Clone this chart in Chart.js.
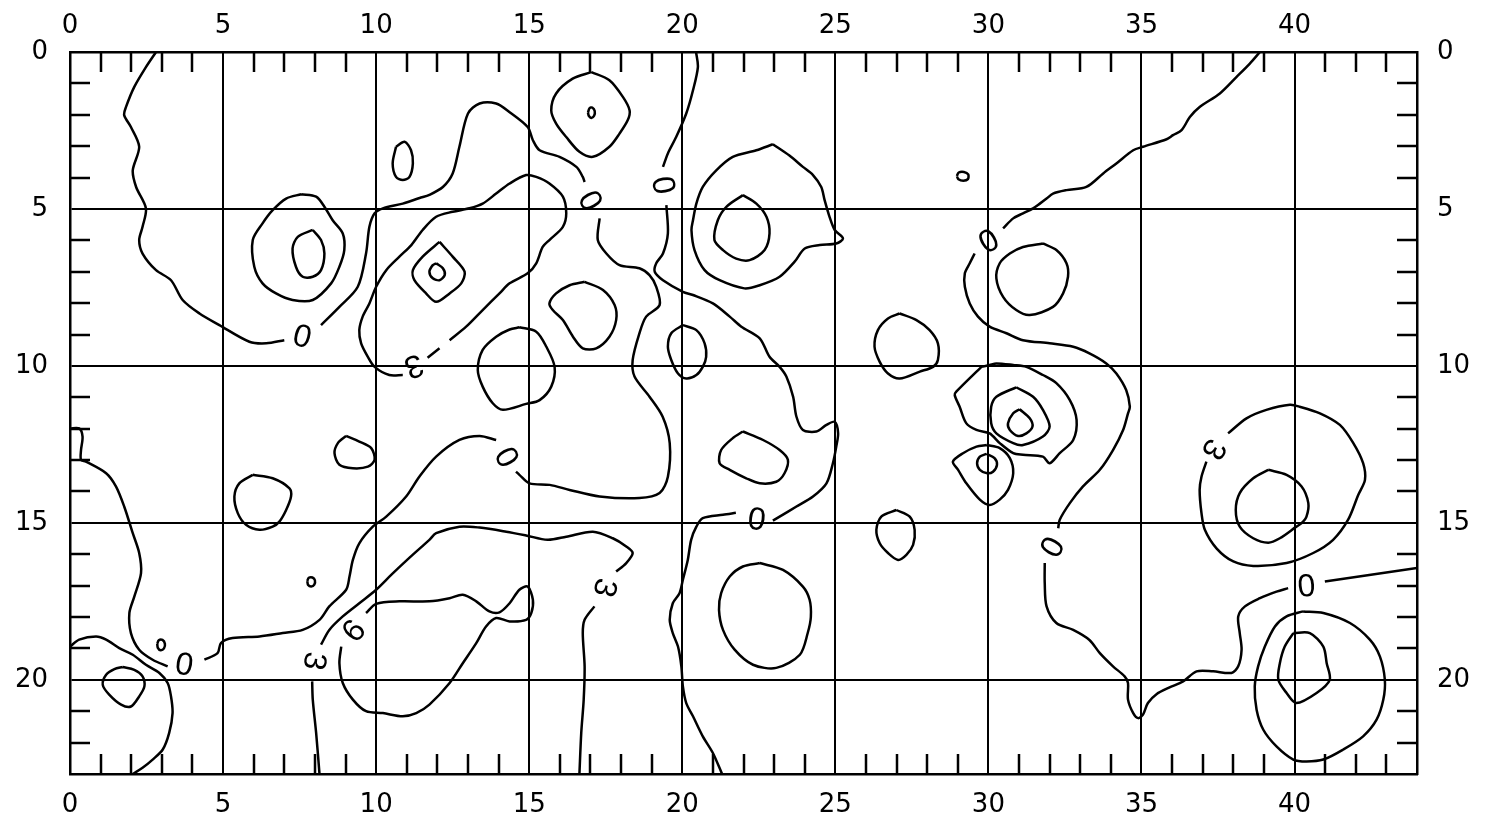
<!DOCTYPE html>
<html>
<head>
<meta charset="utf-8">
<title>Contour map</title>
<script src="https://cdn.jsdelivr.net/npm/chart.js@4.4.1/dist/chart.umd.min.js"></script>
<style>
  html, body { margin: 0; padding: 0; background: #fff; }
  #map { display: block; }
</style>
</head>
<body>
<canvas id="map" width="1485" height="822"></canvas>
<script>
// Axis ranges (grid units)
const xRange = [0, 44];
const yRange = [0, 23];
const majorStep = 5;

// Zero contour, west part, split where its labels sit
const zeroWest1 = [[2.81,0],[2.48,0.48],[2.1,1.11],[1.83,1.75],[1.77,2.01],[1.99,2.39],[2.26,3.02],[2.05,3.77],[2.16,4.3],[2.48,4.98],[2.37,5.57],[2.26,5.99],[2.37,6.42],[2.81,6.95],[3.3,7.27],[3.68,7.9],[4.23,8.33],[4.88,8.7],[5.86,9.23],[6.41,9.28],[7.0,9.18]];
const zeroWest2 = [[8.2,8.7],[8.8,8.12],[9.4,7.48],[9.67,6.42],[9.78,5.57],[9.95,5.14],[10.22,4.98],[10.87,4.83],[11.42,4.65],[11.74,4.55],[12.18,4.3],[12.5,3.87],[12.72,3.02],[13.0,1.96],[13.38,1.64],[13.92,1.64],[14.35,1.91],[14.95,2.39],[15.12,2.81],[15.34,3.13],[15.99,3.34],[16.54,3.66],[16.75,3.98],[16.81,4.14]];
const zeroWest3 = [[17.3,5.3],[17.24,5.99],[17.52,6.42],[17.95,6.79],[18.6,6.89],[18.93,7.11],[19.15,7.48],[19.26,8.06],[18.82,8.43],[18.6,8.96],[18.38,9.81],[18.44,10.34],[18.93,10.98],[19.36,11.62],[19.59,12.46],[19.53,13.53],[19.26,14.05],[18.6,14.21],[17.3,14.16],[16.32,13.95],[15.67,13.79],[15.01,13.74],[14.68,13.47],[14.57,13.37]];
const zeroWest4 = [[13.92,12.36],[13.38,12.23],[12.72,12.36],[11.96,12.89],[11.41,13.53],[10.98,14.16],[10.33,14.8],[9.89,15.12],[9.45,15.65],[9.24,16.18],[9.13,16.71],[9.02,17.13],[8.47,17.66],[8.15,18.09],[7.6,18.41],[6.95,18.51],[6.19,18.62],[5.31,18.67],[4.93,18.83],[4.82,19.15],[4.39,19.36]];
const zeroWest5 = [[3.19,19.57],[2.7,19.36],[2.26,19.04],[1.99,18.51],[1.94,17.87],[2.1,17.35],[2.32,16.6],[2.26,15.96],[2.05,15.33],[1.77,14.48],[1.5,13.84],[1.18,13.42],[0.52,13.05],[0.36,13.0],[0.36,12.68],[0.41,12.25],[0.3,11.99],[0,11.99]];

// Zero contour, central part
const zeroMid1 = [[20.45,0],[20.51,0.48],[20.35,1.22],[20.13,1.96],[19.8,2.71],[19.53,3.23],[19.37,3.66]];
const zeroMid2 = [[19.48,4.88],[19.53,5.78],[19.37,6.42],[19.15,6.73],[19.1,7.0],[19.37,7.27],[20.02,7.64],[20.35,7.74],[21.0,8.01],[21.55,8.43],[21.93,8.75],[22.53,9.12],[22.85,9.71],[23.18,10.03],[23.4,10.34],[23.62,10.98],[23.73,11.62],[23.94,12.04],[24.38,12.09],[24.71,11.88],[24.98,11.78],[25.09,12.14],[25.03,12.57],[24.92,13.1],[24.71,13.74],[24.27,14.16],[23.73,14.48],[23.18,14.8],[22.96,14.93]];
const zeroMid3 = [[21.75,14.68],[21.33,14.74],[20.67,14.85],[20.46,15.12],[20.29,15.54],[20.18,16.18],[20.02,16.81],[19.91,17.24],[19.69,17.56],[19.59,18.09],[19.69,18.51],[19.86,18.94],[19.97,19.57],[20.02,20.21],[20.13,20.74],[20.35,21.16],[20.67,21.8],[21.0,22.33],[21.3,23]];

// Zero contour, east part
const zeroEast1 = [[38.87,0],[38.54,0.37],[38.1,0.8],[37.56,1.32],[36.9,1.75],[36.58,2.07],[36.31,2.49],[36.03,2.65],[35.82,2.78],[35.05,3.02],[34.73,3.13],[34.18,3.55],[33.75,3.87],[33.2,4.3],[32.55,4.4],[32.11,4.51],[31.9,4.67],[31.68,4.83],[31.46,4.98],[31.13,5.14],[30.81,5.3],[30.48,5.62]];
const zeroEast2 = [[29.55,6.42],[29.39,6.73],[29.23,7.05],[29.23,7.48],[29.39,8.01],[29.66,8.43],[30.04,8.75],[30.59,8.96],[31.13,9.18],[32.0,9.28],[32.77,9.39],[33.3,9.6],[33.85,9.92],[34.18,10.24],[34.5,10.77],[34.62,11.3],[34.56,11.51],[34.4,12.04],[34.07,12.68],[33.64,13.31],[33.09,13.84],[32.66,14.37],[32.33,14.9],[32.28,15.17]];
const zeroEast3 = [[31.84,16.28],[31.84,16.92],[31.9,17.66],[32.22,18.19],[32.77,18.41],[33.3,18.73],[33.64,19.15],[34.07,19.57],[34.45,19.89],[34.56,20.1],[34.56,20.63],[34.73,21.06],[34.89,21.22],[35.05,21.11],[35.21,20.74],[35.5,20.45],[35.9,20.25],[36.36,20.05],[36.8,19.73],[37.34,19.73],[37.94,19.78],[38.16,19.57],[38.27,19.04],[38.21,18.51],[38.16,17.98],[38.38,17.66],[38.87,17.4],[39.41,17.19],[39.79,17.08]];
const zeroEast4 = [[40.99,16.87],[44,16.44]];

// Level 3 contours
const threeWest = [[10.87,10.29],[10.43,10.29],[9.95,10.03],[9.73,9.71],[9.51,9.28],[9.45,8.86],[9.56,8.43],[9.78,8.01],[10.0,7.48],[10.33,6.95],[10.76,6.52],[11.15,6.15],[11.52,5.67],[11.96,5.25],[12.5,5.09],[13.05,4.98],[13.48,4.83],[13.92,4.51],[14.36,4.19],[14.9,3.92],[15.23,3.98],[15.66,4.19],[16.1,4.61],[16.21,5.14],[16.1,5.57],[15.66,5.99],[15.44,6.21],[15.23,6.73],[14.95,7.05],[14.36,7.37],[14.03,7.69],[13.48,8.22],[12.94,8.75],[12.4,9.18]];
const threeWestDash = [[12.07,9.44],[11.68,9.74]];
const threeSouth1 = [[8.15,23],[8.04,21.69],[7.93,20.63],[7.91,20.05]];
const threeSouth2 = [[8.2,18.88],[8.47,18.41],[8.91,17.98],[9.45,17.56],[10.0,17.13],[10.5,16.65],[11.1,16.1],[11.74,15.54],[11.96,15.33],[12.72,15.12],[13.38,15.15],[14.25,15.28],[14.9,15.4],[15.6,15.54],[16.21,15.44],[17.08,15.28],[17.73,15.49],[18.17,15.75],[18.38,15.96],[18.17,16.28],[17.84,16.55]];
const threeSouth3 = [[17.13,17.66],[16.81,18.09],[16.75,18.51],[16.81,19.57],[16.78,20.63],[16.7,21.69],[16.64,23]];
const threeEast = [[37.83,12.15],[38.43,11.67],[39.08,11.4],[39.85,11.24],[40.17,11.3],[40.83,11.51],[41.48,11.88],[41.92,12.46],[42.24,13.1],[42.3,13.63],[42.08,14.11],[41.75,14.9],[41.26,15.54],[40.61,15.96],[39.74,16.28],[38.65,16.37],[38.0,16.23],[37.45,15.81],[37.07,15.22],[36.96,14.69],[36.9,13.95],[36.96,13.53],[37.12,13.05]];

// Level 6 contour
const sixWest = [[9.67,17.87],[10.0,17.58],[10.76,17.5],[11.74,17.5],[12.4,17.4],[12.83,17.29],[13.27,17.5],[13.7,17.82],[14.03,17.85],[14.36,17.56],[14.68,17.13],[14.95,17.03],[15.12,17.45],[15.07,17.87],[14.9,18.09],[14.36,18.14],[13.92,18.03],[13.59,18.3],[13.27,18.83],[12.83,19.47],[12.4,20.1],[11.74,20.79],[11.31,21.06],[10.87,21.16],[10.22,21.06],[9.67,21.0],[9.24,20.63],[8.91,20.1],[8.8,19.47],[8.86,18.94]];

// Open line in the south-west corner
const edgeSouthWest = [[0,18.94],[0.3,18.72],[0.85,18.62],[1.18,18.72],[1.61,18.99],[2.05,19.2],[2.48,19.52],[2.92,19.78],[3.19,20.1],[3.3,20.53],[3.35,21.06],[3.24,21.69],[3.03,22.22],[2.7,22.54],[2.37,22.8],[2.05,23]];

// Closed rings
const ring11x3 = [[10.65,3.02],[10.93,2.86],[11.14,3.13],[11.2,3.55],[11.09,3.98],[10.87,4.08],[10.65,3.98],[10.54,3.55]];
const ring8x6Outer = [[7.55,4.53],[8.04,4.61],[8.31,4.93],[8.58,5.36],[8.91,5.78],[8.96,6.31],[8.8,6.84],[8.53,7.37],[7.93,7.9],[7.27,7.9],[6.73,7.69],[6.29,7.37],[6.02,6.84],[5.97,5.99],[6.29,5.46],[6.62,5.04],[7.06,4.67]];
const ring8x6Inner = [[7.93,5.67],[8.2,5.99],[8.31,6.42],[8.2,6.95],[7.93,7.16],[7.6,7.16],[7.38,6.84],[7.27,6.26],[7.44,5.89]];
const ring12x7Outer = [[12.07,6.05],[12.5,6.52],[12.89,7.0],[12.78,7.37],[12.4,7.69],[11.96,7.96],[11.63,7.69],[11.25,7.27],[11.2,6.95],[11.52,6.52]];
const ring12x7Inner = [[11.96,6.73],[12.18,6.89],[12.24,7.11],[12.07,7.27],[11.85,7.21],[11.74,7.0],[11.85,6.79]];
const ring17x2Outer = [[17.03,0.64],[17.62,0.9],[18.06,1.43],[18.28,1.86],[18.22,2.17],[17.95,2.6],[17.62,3.02],[17.08,3.34],[16.64,3.18],[16.21,2.71],[15.88,2.28],[15.72,1.86],[15.88,1.32],[16.42,0.85]];
const ring17x2Inner = [[16.92,1.93],[16.97,1.79],[17.06,1.77],[17.14,1.88],[17.12,2.03],[17.03,2.1],[16.95,2.04]];
const ring22x5Outer = [[22.96,2.94],[23.5,3.3],[23.94,3.66],[24.27,3.92],[24.54,4.3],[24.65,4.72],[24.81,5.25],[24.98,5.67],[25.25,5.94],[25.03,6.1],[24.49,6.15],[24.0,6.26],[23.67,6.68],[23.18,7.16],[22.53,7.43],[22.03,7.53],[21.22,7.27],[20.73,6.95],[20.4,6.31],[20.3,5.67],[20.35,5.36],[20.46,4.83],[20.67,4.3],[21.11,3.77],[21.65,3.34],[22.42,3.13]];
const ring22x5Inner = [[21.98,4.56],[22.42,4.83],[22.75,5.25],[22.85,5.78],[22.69,6.31],[22.2,6.63],[21.76,6.58],[21.33,6.31],[21.05,5.99],[21.16,5.36],[21.44,4.93]];
const ring17x8 = [[16.81,7.32],[17.41,7.58],[17.79,8.06],[17.84,8.54],[17.62,9.07],[17.19,9.44],[16.75,9.44],[16.43,9.07],[16.1,8.54],[15.77,8.22],[15.66,8.01],[15.88,7.69],[16.32,7.43]];
const ring14x10 = [[14.68,8.77],[15.23,8.91],[15.56,9.39],[15.83,10.03],[15.72,10.66],[15.34,11.09],[14.9,11.21],[14.14,11.4],[13.81,11.19],[13.48,10.66],[13.32,10.13],[13.48,9.49],[13.92,9.07],[14.36,8.84]];
const ring20x10 = [[20.02,8.7],[20.46,8.86],[20.73,9.28],[20.78,9.71],[20.67,10.03],[20.46,10.29],[20.13,10.4],[19.86,10.24],[19.64,9.81],[19.53,9.39],[19.64,8.96]];
const ring9x13 = [[9.02,12.23],[9.45,12.41],[9.84,12.62],[9.95,12.99],[9.73,13.21],[9.24,13.26],[8.8,13.15],[8.64,12.78],[8.75,12.46]];
const ring6x14 = [[5.97,13.47],[6.62,13.58],[7.17,13.9],[7.22,14.16],[7.06,14.59],[6.84,14.96],[6.62,15.12],[6.19,15.22],[5.75,15.06],[5.48,14.69],[5.37,14.16],[5.53,13.74]];
const ring8x17 = [[7.75,16.85],[7.8,16.75],[7.92,16.74],[8.0,16.83],[7.98,16.97],[7.88,17.03],[7.78,16.98]];
const ring3x19 = [[2.85,18.85],[2.9,18.74],[3.02,18.73],[3.1,18.85],[3.07,19.0],[2.96,19.06],[2.87,18.98]];
const ring2x20 = [[1.72,19.59],[2.1,19.68],[2.37,19.89],[2.43,20.21],[2.26,20.53],[1.99,20.85],[1.67,20.79],[1.28,20.47],[1.07,20.16],[1.18,19.84],[1.45,19.66]];
const ring22x13 = [[21.98,12.09],[22.64,12.36],[23.18,12.68],[23.45,12.99],[23.34,13.42],[23.07,13.69],[22.53,13.74],[22.09,13.58],[21.55,13.31],[21.22,13.1],[21.27,12.68],[21.65,12.3]];
const ring23x18 = [[22.53,16.28],[23.29,16.5],[23.94,17.03],[24.16,17.45],[24.2,18.0],[24.1,18.5],[23.84,19.2],[23.07,19.62],[22.31,19.52],[21.71,19.04],[21.33,18.41],[21.2,17.77],[21.27,17.24],[21.55,16.71],[21.98,16.39]];
const ring27x9 = [[27.1,8.33],[27.65,8.54],[28.08,8.86],[28.35,9.28],[28.35,9.81],[28.19,10.03],[27.76,10.18],[27.1,10.4],[26.72,10.24],[26.45,9.87],[26.28,9.39],[26.39,8.86],[26.72,8.49]];
const ring27x15 = [[26.99,14.59],[27.43,14.8],[27.59,15.22],[27.54,15.7],[27.32,16.02],[27.05,16.18],[26.72,15.96],[26.45,15.65],[26.34,15.22],[26.5,14.8]];
const ring29x4 = [[28.97,3.95],[29.03,3.84],[29.2,3.82],[29.34,3.9],[29.33,4.05],[29.18,4.1],[29.02,4.05]];
const ring31x7 = [[31.78,6.1],[32.22,6.31],[32.55,6.73],[32.6,7.16],[32.44,7.69],[32.11,8.12],[31.35,8.38],[30.91,8.22],[30.48,7.8],[30.26,7.21],[30.37,6.73],[30.7,6.42],[31.13,6.21]];
const ring31x11Outer = [[29.77,10.03],[28.95,10.82],[28.9,10.93],[29.06,11.3],[29.28,11.83],[29.61,12.04],[30.04,12.15],[30.37,12.46],[30.81,12.78],[31.13,12.83],[31.78,12.89],[32.0,13.1],[32.33,12.78],[32.77,12.36],[32.88,11.72],[32.66,11.09],[32.22,10.55],[31.78,10.29],[31.24,10.03],[30.81,9.97],[30.26,9.92],[30.04,9.97]];
const ring31x11Middle = [[30.91,10.68],[31.46,10.98],[31.78,11.4],[32.0,11.93],[31.78,12.25],[31.13,12.52],[30.81,12.46],[30.26,12.15],[30.09,11.83],[30.09,11.3],[30.26,10.98]];
const ring31x11Inner = [[31.02,11.38],[31.35,11.67],[31.44,11.93],[31.24,12.15],[30.97,12.23],[30.7,12.04],[30.64,11.83],[30.81,11.51]];
const ring30x13Outer = [[29.94,12.52],[30.37,12.62],[30.7,12.94],[30.81,13.42],[30.64,13.95],[30.37,14.26],[30.04,14.43],[29.72,14.26],[29.28,13.74],[29.01,13.31],[28.84,13.05],[29.17,12.78],[29.61,12.57]];
const ring30x13Inner = [[29.94,12.8],[30.2,12.94],[30.28,13.15],[30.15,13.37],[29.96,13.42],[29.72,13.31],[29.63,13.1],[29.72,12.89]];
const ring39x14 = [[39.14,13.31],[39.74,13.47],[40.23,13.84],[40.45,14.37],[40.39,14.8],[40.23,15.01],[40.06,15.12],[39.52,15.49],[39.14,15.63],[38.65,15.49],[38.21,15.12],[38.08,14.59],[38.21,14.05],[38.65,13.58]];
const ring40x20Outer = [[40.28,17.82],[40.94,17.87],[41.81,18.19],[42.46,18.72],[42.79,19.26],[42.95,20.0],[42.9,20.63],[42.68,21.27],[42.24,21.8],[41.59,22.22],[40.94,22.54],[40.39,22.6],[39.96,22.54],[39.41,22.12],[38.98,21.59],[38.76,20.95],[38.7,20.21],[38.81,19.57],[39.03,18.94],[39.36,18.3],[39.74,17.98]];
const ring40x20Inner = [[39.96,18.51],[40.5,18.51],[40.94,18.94],[41.05,19.47],[41.15,20.0],[40.72,20.42],[40.06,20.74],[39.74,20.42],[39.47,20.0],[39.52,19.47],[39.68,18.94]];

// Contour labels
const labelText = ['0', '0', '0', '0', '0', '0', '0', '0', '0', '3', '3', '3', '3', '6'];
const labelX = [7.6, 17.03, 19.42, 14.3, 3.74, 22.44, 29.99, 32.06, 40.39, 11.25, 17.52, 8.04, 37.4, 9.24];
const labelY = [9.02, 4.72, 4.24, 12.89, 19.47, 14.85, 5.99, 15.75, 16.97, 10.05, 17.08, 19.41, 12.68, 18.41];
const labelAngle = [15, 60, 80, 60, 10, 8, -30, -60, -5, 160, 105, 100, 120, -50];

const openLines = [zeroWest1, zeroWest2, zeroWest3, zeroWest4, zeroWest5,
  zeroMid1, zeroMid2, zeroMid3, zeroEast1, zeroEast2, zeroEast3, zeroEast4,
  threeWest, threeWestDash, threeSouth1, threeSouth2, threeSouth3, threeEast,
  sixWest, edgeSouthWest];
const rings = [ring11x3, ring8x6Outer, ring8x6Inner, ring12x7Outer, ring12x7Inner,
  ring17x2Outer, ring17x2Inner, ring22x5Outer, ring22x5Inner, ring17x8, ring14x10,
  ring20x10, ring9x13, ring6x14, ring8x17, ring3x19, ring2x20, ring22x13, ring23x18,
  ring27x9, ring27x15, ring29x4, ring31x7, ring31x11Outer, ring31x11Middle,
  ring31x11Inner, ring30x13Outer, ring30x13Inner, ring39x14, ring40x20Outer, ring40x20Inner];

function toDataset(pts) {
  return {
    data: pts.map(([x, y]) => ({ x, y })),
    showLine: true,
    borderColor: '#000',
    borderWidth: 2.5,
    pointRadius: 0,
    tension: 0.3,
    fill: false
  };
}

const datasets = openLines.map(toDataset)
  .concat(rings.map(r => toDataset(r.concat([r[0]]))));

// Short inward ticks at every whole unit on all four sides
const minorTicks = {
  id: 'minorTicks',
  afterDraw(chart) {
    const { ctx, chartArea: a, scales: { x, y } } = chart;
    const len = 20;
    ctx.save();
    ctx.strokeStyle = '#000';
    ctx.lineWidth = 2.5;
    ctx.beginPath();
    for (let v = xRange[0] + 1; v < xRange[1]; v++) {
      if (v % majorStep === 0) continue;
      const px = Math.round(x.getPixelForValue(v));
      ctx.moveTo(px, a.top); ctx.lineTo(px, a.top + len);
      ctx.moveTo(px, a.bottom); ctx.lineTo(px, a.bottom - len);
    }
    for (let v = yRange[0] + 1; v < yRange[1]; v++) {
      if (v % majorStep === 0) continue;
      const py = Math.round(y.getPixelForValue(v));
      ctx.moveTo(a.left, py); ctx.lineTo(a.left + len, py);
      ctx.moveTo(a.right, py); ctx.lineTo(a.right - len, py);
    }
    ctx.stroke();
    ctx.restore();
  }
};

// Level numbers written along the contours
const contourLabels = {
  id: 'contourLabels',
  afterDatasetsDraw(chart) {
    const { ctx, scales: { x, y } } = chart;
    const size = 32;
    ctx.save();
    ctx.font = size + 'px "Liberation Sans"';
    ctx.fillStyle = '#000';
    ctx.textAlign = 'center';
    ctx.textBaseline = 'alphabetic';
    labelText.forEach((t, i) => {
      ctx.save();
      ctx.translate(x.getPixelForValue(labelX[i]), y.getPixelForValue(labelY[i]));
      ctx.rotate(labelAngle[i] * Math.PI / 180);
      ctx.fillText(t, 0, size * 0.36);
      ctx.restore();
    });
    ctx.restore();
  }
};

const tickFont = { family: 'DejaVu Sans', size: 26 };

function xAxis(position, showGrid, h, pad) {
  return {
    type: 'linear', axis: 'x', position,
    min: xRange[0], max: xRange[1],
    ticks: { stepSize: majorStep, includeBounds: false, color: '#000', font: tickFont, padding: pad, maxRotation: 0 },
    grid: { display: true, drawOnChartArea: showGrid, drawTicks: false, color: '#000', lineWidth: 2 },
    border: { display: true, color: '#000', width: 2.5 },
    afterFit: s => { s.height = h; }
  };
}

function yAxis(position, showGrid, w, pad) {
  return {
    type: 'linear', axis: 'y', position, reverse: true,
    min: yRange[0], max: yRange[1],
    ticks: { stepSize: majorStep, includeBounds: false, color: '#000', font: tickFont, padding: pad },
    grid: { display: true, drawOnChartArea: showGrid, drawTicks: false, color: '#000', lineWidth: 2 },
    border: { display: true, color: '#000', width: 2.5 },
    afterFit: s => { s.width = w; }
  };
}

new Chart(document.getElementById('map').getContext('2d'), {
  type: 'scatter',
  data: { datasets },
  options: {
    responsive: false,
    animation: false,
    layout: { padding: 0 },
    plugins: { legend: { display: false }, tooltip: { enabled: false } },
    scales: {
      x: xAxis('bottom', true, 48, 16),
      x2: xAxis('top', false, 52, 10),
      y: yAxis('left', true, 70, 22),
      y2: yAxis('right', false, 68, 20)
    }
  },
  plugins: [contourLabels, minorTicks]
});
</script>
</body>
</html>
